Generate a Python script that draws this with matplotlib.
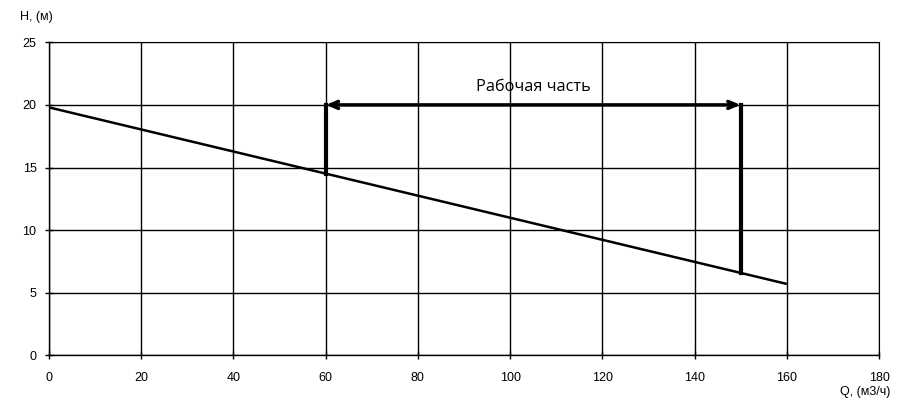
import matplotlib
matplotlib.use("Agg")
import matplotlib.pyplot as plt

# Data
q_curve = [0, 160]
h_curve = [19.8, 5.7]
work_left_q = 60
work_right_q = 150
work_top_h = 20
work_left_bottom = 14.5
work_right_bottom = 6.6
x_ticks = [0, 20, 40, 60, 80, 100, 120, 140, 160, 180]
y_ticks = [0, 5, 10, 15, 20, 25]
label_text = "Рабочая часть"

plt.rcParams['font.family'] = ['Liberation Sans', 'DejaVu Sans']

fig = plt.figure(figsize=(9, 4.05), dpi=100)
ax = fig.add_axes([49/900, 1-355.3/405, (879-49)/900, (355.3-42.3)/405])

ax.set_xlim(0, 180)
ax.set_ylim(0, 25)
ax.set_xticks(x_ticks)
ax.set_yticks(y_ticks)
ax.grid(True, color='black', linewidth=1.0)
ax.set_axisbelow(True)
for s in ax.spines.values():
    s.set_color('black')
    s.set_linewidth(1.0)
ax.spines['top'].set_linewidth(0.8)
ax.spines['right'].set_linewidth(0.8)
ax.tick_params(direction='inout', length=6, width=1, labelsize=9, colors='black')
ax.tick_params(axis='x', pad=9)
ax.tick_params(axis='y', pad=6)

ax.plot(q_curve, h_curve, color='black', linewidth=1.8, solid_capstyle='butt')
ax.plot([work_left_q, work_left_q], [work_left_bottom, work_top_h], color='black', linewidth=3)
ax.plot([work_right_q, work_right_q], [work_right_bottom, work_top_h], color='black', linewidth=3)
ax.annotate('', xy=(work_left_q, work_top_h), xytext=(work_right_q, work_top_h),
            arrowprops=dict(arrowstyle='<->,head_length=0.6,head_width=0.25', color='black',
                            lw=2.5, shrinkA=0, shrinkB=0))
ax.text(105, 21.45, label_text, ha='center', va='center', fontsize=11.7,
        family=['Open Sans', 'DejaVu Sans'])

fig.text(20/900, 1-17/405, "H, (м)", fontsize=9, ha='left', va='center')
fig.text(890/900, 1-392/405, "Q, (м3/ч)", fontsize=9, ha='right', va='center')

fig.savefig("out.png", dpi=100, facecolor='white')
